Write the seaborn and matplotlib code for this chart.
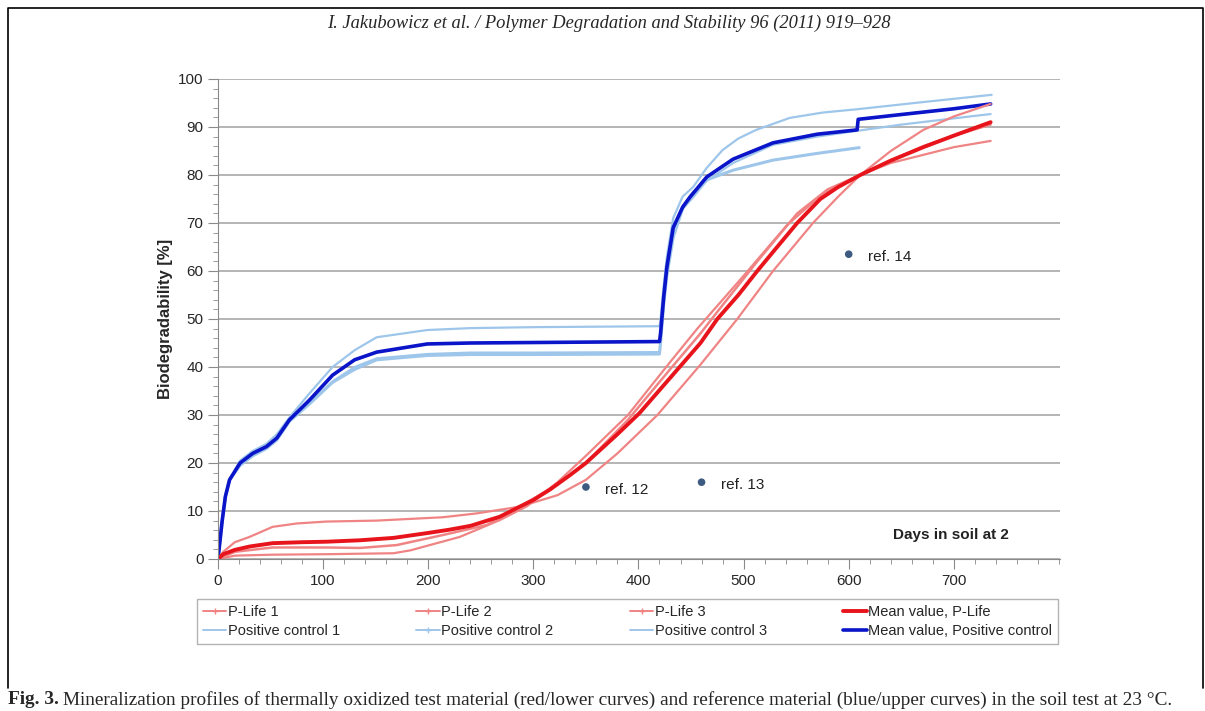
import pandas as pd
import matplotlib.pyplot as plt
import matplotlib.lines as mlines
from matplotlib.ticker import MultipleLocator
import seaborn as sns

# P-Life (red) curves
pl1_days = [0, 5, 16, 30, 52, 75, 103, 151, 214, 246, 287, 323, 350, 380, 418, 459, 494, 528, 566, 590, 611, 640, 671, 700, 735]
pl1_vals = [0, 1.5, 3.5, 4.6, 6.7, 7.4, 7.8, 8.0, 8.7, 9.5, 10.9, 13.3, 16.5, 22, 30, 40.5, 50, 60, 70, 75.5, 80, 85, 89.4, 92.2, 94.8]
pl2_days = [0, 16, 52, 103, 135, 170, 214, 256, 287, 323, 350, 390, 430, 459, 475, 513, 551, 580, 611, 640, 671, 700, 735]
pl2_vals = [0, 1.5, 2.4, 2.4, 2.3, 2.9, 5.0, 7.1, 10.9, 15.5, 20, 29, 39.5, 47, 51.5, 62, 72, 77, 80, 83, 86, 88.2, 90.5]
pl3_days = [0, 16, 52, 103, 167, 183, 230, 268, 294, 323, 350, 390, 430, 456, 480, 500, 541, 575, 611, 640, 671, 700, 735]
pl3_vals = [0, 0.7, 0.9, 1.0, 1.2, 1.8, 4.6, 8.1, 11, 16, 21.5, 30, 41, 48, 54, 59, 69.5, 76, 80, 82.5, 84.2, 85.8, 87.1]
plm_days = [0, 5, 16, 30, 52, 80, 103, 135, 167, 199, 220, 240, 268, 287, 300, 316, 335, 350, 380, 401, 430, 459, 475, 495, 513, 530, 551, 573, 590, 611, 640, 671, 700, 735]
plm_vals = [0, 1, 1.9, 2.6, 3.3, 3.5, 3.6, 3.9, 4.4, 5.4, 6.1, 6.9, 8.8, 10.9, 12.3, 14.5, 17.5, 20, 26, 30.4, 37.7, 45, 50, 55, 60, 64.5, 70, 75, 77.5, 80, 83, 85.8, 88.2, 91]

# Positive control (blue) curves
pc1_days = [0, 4, 7, 11, 21, 33, 46, 56, 68, 87, 109, 130, 151, 199, 240, 300, 420, 421, 424, 427, 433, 442, 452, 465, 480, 495, 512, 544, 575, 608, 671, 736]
pc1_vals = [0, 8, 13, 16.5, 20.5, 22.5, 24, 26, 29.5, 34.5, 40, 43.5, 46.2, 47.7, 48.1, 48.3, 48.5, 50, 57, 63, 71, 75.5, 77.5, 81.5, 85.2, 87.6, 89.4, 91.9, 93, 93.7, 95.2, 96.7]
pc2_days = [0, 4, 7, 11, 21, 33, 46, 56, 68, 87, 109, 130, 151, 199, 240, 300, 420, 421, 424, 427, 433, 442, 452, 465, 490, 528, 570, 608, 650, 700, 735]
pc2_vals = [0, 8, 13, 16.5, 20, 22, 23.2, 25, 28.8, 32.5, 37, 40, 41.8, 42.7, 43, 43, 43.1, 46, 53, 60, 68.5, 73.5, 76.5, 78.8, 82.5, 86.3, 88, 89.2, 90.5, 91.8, 92.7]
pc3_days = [0, 4, 7, 11, 21, 33, 46, 56, 68, 87, 109, 130, 151, 199, 240, 300, 420, 421, 424, 427, 433, 442, 452, 465, 490, 528, 570, 610]
pc3_vals = [0, 8, 13, 16.5, 19.5, 21.5, 23, 24.8, 28.7, 32.3, 36.8, 39.5, 41.5, 42.4, 42.6, 42.6, 42.7, 45, 53, 59, 67, 73, 75.5, 79, 81, 83.1, 84.5, 85.7]
pcm_days = [0, 4, 7, 11, 21, 33, 46, 56, 68, 87, 109, 130, 151, 199, 240, 300, 420, 421, 424, 427, 433, 442, 449, 465, 490, 528, 570, 608, 609, 650, 700, 735]
pcm_vals = [0, 8, 13, 16.5, 20, 22, 23.4, 25.2, 29, 33.1, 38.3, 41.5, 43.1, 44.8, 45, 45.1, 45.3, 47, 54.6, 60.8, 69, 73.3, 75.4, 79.6, 83.3, 86.7, 88.5, 89.4, 91.6, 92.6, 93.8, 94.8]

# literature reference points
ref_days = [350, 460, 600]
ref_vals = [15, 16, 63.5]
ref_labels = ["ref. 12", "ref. 13", "ref. 14"]

light_red = "#f08484"
dark_red = "#e8141c"
light_blue = "#9ec6ea"
dark_blue = "#0a14c8"

sns.set_style("white")
plt.rcParams["font.family"] = ["Liberation Sans", "DejaVu Sans"]

fig = plt.figure(figsize=(12.05, 7.11), dpi=100)
ax = fig.add_axes([218 / 1205, 1 - 559 / 711, (1060 - 218) / 1205, 480 / 711])

series = [
    (pc1_days, pc1_vals, light_blue, 1.6),
    (pc2_days, pc2_vals, light_blue, 1.6),
    (pc3_days, pc3_vals, light_blue, 2.2),
    (pcm_days, pcm_vals, dark_blue, 2.6),
    (pl1_days, pl1_vals, light_red, 1.6),
    (pl2_days, pl2_vals, light_red, 1.8),
    (pl3_days, pl3_vals, light_red, 1.6),
    (plm_days, plm_vals, dark_red, 2.8),
]
for d, v, c, lw in series:
    df = pd.DataFrame({"day": d, "val": v})
    sns.lineplot(data=df, x="day", y="val", color=c, lw=lw, sort=False, ax=ax, legend=False)

refs = pd.DataFrame({"day": ref_days, "val": ref_vals})
sns.scatterplot(data=refs, x="day", y="val", color="#3d5a80", s=30, edgecolor="none", ax=ax, legend=False)
for d, v, t in zip(ref_days, ref_vals, ref_labels):
    ax.annotate(t, (d, v), xytext=(14, -2), textcoords="offset points", va="center", fontsize=11, color="#222222")

ax.text(752, 5, "Days in soil at 2", ha="right", va="center", fontsize=11, fontweight="bold", color="#222222")

ax.set_xlim(0, 801)
ax.set_ylim(0, 100)
ax.set_xticks(range(0, 701, 100))
ax.set_yticks(range(0, 101, 10))
ax.xaxis.set_minor_locator(MultipleLocator(20))
ax.yaxis.set_minor_locator(MultipleLocator(2))
ax.yaxis.grid(True, color="#a8a8a8", lw=1.2)
ax.set_axisbelow(True)
for s in ["top", "right"]:
    ax.spines[s].set_visible(False)
for s in ["left", "bottom"]:
    ax.spines[s].set_color("#8a8a8a")
ax.tick_params(which="major", direction="out", length=7, color="#8a8a8a", labelsize=11, left=True, bottom=True)
ax.tick_params(which="minor", direction="out", length=3.5, color="#8a8a8a", left=True, bottom=True)
ax.set_xlabel("")
ax.set_ylabel("Biodegradability [%]", fontsize=12, fontweight="bold")
ax.yaxis.set_label_coords(-0.053, 0.5)

# legend
def h(c, lw, mk=None):
    return mlines.Line2D([], [], color=c, lw=lw, marker=mk, markersize=4)
handles = [h(light_red, 1.4, "+"), h(light_blue, 1.4), h(light_red, 1.4, "+"), h(light_blue, 1.4, "+"),
           h(light_red, 1.4, "+"), h(light_blue, 1.4), h(dark_red, 2.8), h(dark_blue, 2.6)]
labels = ["P-Life 1", "Positive control 1", "P-Life 2", "Positive control 2",
          "P-Life 3", "Positive control 3", "Mean value, P-Life", "Mean value, Positive control"]
fig.legend(handles, labels, ncol=4, loc="upper left", mode="expand",
           bbox_to_anchor=(197 / 1205, 1 - 606 / 711, (1058 - 197) / 1205, 0.01),
           frameon=True, fancybox=False, edgecolor="#a0a0a0", fontsize=10.5,
           handlelength=1.6, handletextpad=0.1, borderaxespad=0, labelspacing=0.35)

# page elements
fig.add_artist(mlines.Line2D([8 / 1205, 8 / 1205, 1203 / 1205, 1203 / 1205],
                             [1 - 688 / 711, 1 - 8 / 711, 1 - 8 / 711, 1 - 688 / 711],
                             color="black", lw=1.2))
fig.text(0.505, 1 - 23 / 711, "I. Jakubowicz et al. / Polymer Degradation and Stability 96 (2011) 919\u2013928",
         ha="center", va="center", fontsize=13.3, style="italic", family="Liberation Serif")
t1 = fig.text(8 / 1205, 1 - 700 / 711, "Fig. 3.", ha="left", va="center", fontsize=13.9,
              fontweight="bold", family="Liberation Serif")
r = fig.canvas.get_renderer()
bb = t1.get_window_extent(r)
fig.text((bb.x1 + 4) / 1205, 1 - 700 / 711,
         "Mineralization profiles of thermally oxidized test material (red/lower curves) and reference material (blue/upper curves) in the soil test at 23 \u00b0C.",
         ha="left", va="center", fontsize=13.9, family="Liberation Serif")

fig.savefig("out.png", dpi=100)
